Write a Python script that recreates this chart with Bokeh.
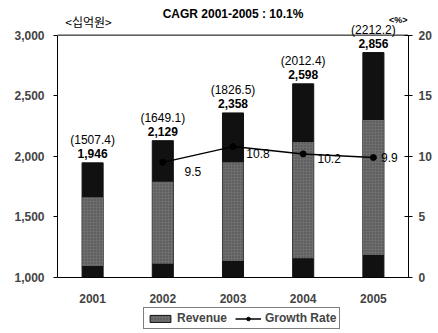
from bokeh.plotting import figure
from bokeh.layouts import column
from bokeh.models import (ColumnDataSource, Range1d, LinearAxis, FixedTicker,
                          NumeralTickFormatter, Legend, LegendItem, Span)
from bokeh.core.properties import value
from bokeh.embed import file_html
from bokeh.resources import INLINE

years = ["2001", "2002", "2003", "2004", "2005"]
revenue = [1946, 2129, 2358, 2598, 2856]
revenue_text = ["1,946", "2,129", "2,358", "2,598", "2,856"]
usd_text = ["(1507.4)", "(1649.1)", "(1826.5)", "(2012.4)", "(2212.2)"]
growth_years = ["2002", "2003", "2004", "2005"]
growth = [9.5, 10.8, 10.2, 9.9]
growth_text = ["9.5", "10.8", "10.2", "9.9"]

FONT = "Liberation Sans"
W = 438
LEFT, RIGHT = 57, 30
BAR_GREY = "#6e6e6e"

# the plot frame runs to the top of the canvas; the value axes stop at
# REV_MAX / PCT_MAX, leaving a header band of HEAD px above them
FRAME_H, HEAD = 280, 35
REV_MIN, REV_MAX = 1000, 3000
PCT_MIN, PCT_MAX = 0, 20
frac = HEAD / FRAME_H
rev_top = (REV_MAX - frac * REV_MIN) / (1 - frac)
pct_top = (PCT_MAX - frac * PCT_MIN) / (1 - frac)

p = figure(width=W, height=FRAME_H + 25, x_range=years,
           y_range=Range1d(REV_MIN, rev_top),
           output_backend="svg", toolbar_location=None,
           min_border_left=LEFT, min_border_right=RIGHT, min_border_top=0,
           min_border_bottom=25)
p.extra_y_ranges = {"pct": Range1d(PCT_MIN, pct_top)}
p.xgrid.visible = False
p.ygrid.visible = False
p.outline_line_color = None
p.add_layout(Span(location=REV_MAX, dimension="width", line_color="black",
                  line_width=1))

# header texts
p.text(x=[2.5], y=[rev_top], text=["CAGR 2001-2005 : 10.1%"],
       y_offset=13, text_align="center", text_baseline="middle",
       text_font=value(FONT), text_font_size="12px", text_font_style="bold",
       text_color="black")
p.text(x=[0.11], y=[rev_top], text=["<십억원>"], y_offset=21,
       text_align="left", text_baseline="middle",
       text_font=value("Noto Sans CJK KR"), text_font_size="12px",
       text_color="black")
p.text(x=[5], y=[rev_top], text=["<%>"], x_offset=-1, y_offset=19,
       text_align="right", text_baseline="middle", text_font=value(FONT),
       text_font_size="9px", text_font_style="bold", text_color="black")

# bars: dark outer shell with a textured grey core
base = REV_MIN
core_bottom = [base + 0.1 * (v - base) for v in revenue]
core_top = [v - 0.3 * (v - base) for v in revenue]
src = ColumnDataSource(dict(year=years, rev=revenue, cb=core_bottom, ct=core_top,
                            rt=revenue_text, ut=usd_text))
p.vbar(x="year", top="rev", bottom=base, width=0.3, source=src,
       fill_color="#111111", line_color="#111111")
p.vbar(x="year", top="ct", bottom="cb", width=0.3, source=src,
       fill_color=BAR_GREY, line_color=None,
       hatch_pattern="dot", hatch_color="#222222", hatch_alpha=0.5,
       hatch_scale=3)

p.text(x="year", y="rev", text="rt", source=src, text_align="center",
       text_baseline="bottom", y_offset=-5, text_font=value(FONT),
       text_font_size="12px", text_font_style="bold", text_color="black")
p.text(x="year", y="rev", text="ut", source=src, text_align="center",
       text_baseline="bottom", y_offset=-16, text_font=value(FONT),
       text_font_size="12px", text_color="black")

# growth rate line on the secondary axis
gsrc = ColumnDataSource(dict(year=growth_years, g=growth, gt=growth_text,
                             dx=[30, 25, 26, 16], dy=[9, 7, 5, 0]))
p.line(x="year", y="g", source=gsrc, y_range_name="pct",
       line_color="black", line_width=1.5)
p.scatter(x="year", y="g", source=gsrc, y_range_name="pct", size=6,
          fill_color="black", line_color="black")
p.text(x="year", y="g", text="gt", source=gsrc, y_range_name="pct",
       x_offset="dx", y_offset="dy", text_align="center",
       text_baseline="middle", text_font=value(FONT), text_font_size="12px",
       text_color="black")

# axes
ax = p.yaxis[0]
ax.bounds = (REV_MIN, REV_MAX)
ax.ticker = FixedTicker(ticks=[1000, 1500, 2000, 2500, 3000])
ax.formatter = NumeralTickFormatter(format="0,0")
ax.major_label_text_font = FONT
ax.major_label_text_font_size = "12px"
ax.major_label_text_font_style = "bold"
ax.major_tick_in = 0
ax.major_tick_out = 4
ax.minor_tick_line_color = None
ax.major_label_standoff = 9

ra = LinearAxis(y_range_name="pct", bounds=(PCT_MIN, PCT_MAX),
                ticker=FixedTicker(ticks=[0, 5, 10, 15, 20]))
ra.major_label_text_font = FONT
ra.major_label_text_font_size = "12px"
ra.major_label_text_font_style = "bold"
ra.major_tick_in = 4
ra.major_tick_out = 4
ra.minor_tick_line_color = None
ra.major_label_standoff = 6
p.add_layout(ra, "right")

xa = p.xaxis[0]
xa.major_label_text_font = FONT
xa.major_label_text_font_size = "12px"
xa.major_label_text_font_style = "bold"
xa.major_tick_line_color = None
xa.major_label_standoff = 10

# ---------- legend strip (x coordinates are canvas pixels) ----------
FOOT_H = 28
foot = figure(width=W, height=FOOT_H, x_range=Range1d(LEFT, W - RIGHT),
              y_range=Range1d(0, FOOT_H), output_backend="svg",
              toolbar_location=None, x_axis_type=None, y_axis_type=None,
              min_border_left=LEFT, min_border_right=RIGHT,
              min_border_top=0, min_border_bottom=0)
foot.outline_line_color = None
foot.xgrid.visible = False
foot.ygrid.visible = False
off = dict(x=[-100], y=[-100], top=[-100])
sw = foot.vbar(x="x", top="top", width=1, source=ColumnDataSource(off),
               fill_color=BAR_GREY, line_color="#111111",
               hatch_pattern="dot", hatch_color="#222222", hatch_alpha=0.5,
               hatch_scale=3)
ln = foot.line(x="x", y="y", source=ColumnDataSource(off),
               line_color="black", line_width=1.5)
mk = foot.scatter(x="x", y="y", source=ColumnDataSource(off), size=6,
                  fill_color="black", line_color="black")
legend = Legend(items=[LegendItem(label="Revenue", renderers=[sw]),
                       LegendItem(label="Growth Rate", renderers=[ln, mk])],
                orientation="horizontal", location=(143 - LEFT, 4),
                border_line_color="black", label_text_font=FONT,
                label_text_font_size="12px", label_text_font_style="bold",
                glyph_width=26, glyph_height=9, spacing=8, padding=3,
                margin=0, label_standoff=4, label_height=12)
foot.add_layout(legend, "center")

layout = column(p, foot, spacing=0)
open("out.html", "w").write(file_html(layout, INLINE))
